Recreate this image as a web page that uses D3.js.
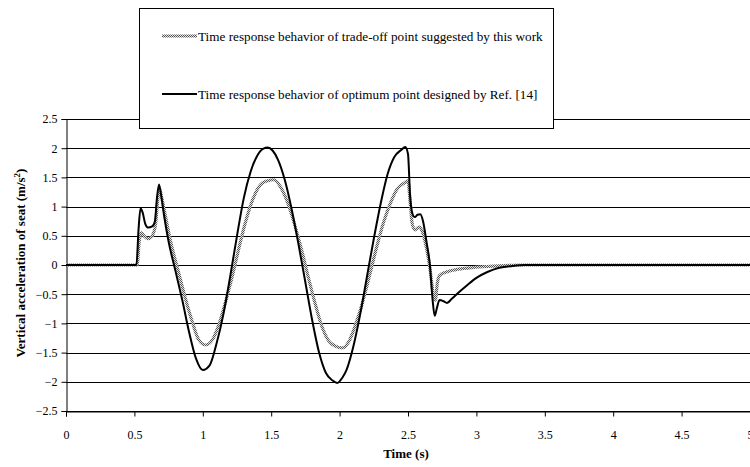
<!DOCTYPE html>
<html><head><meta charset="utf-8">
<script src="https://cdn.jsdelivr.net/npm/d3@7"></script>
<style>body{margin:0;background:#fff}svg{display:block}svg text{font-family:"Liberation Serif","Times New Roman",serif !important}</style>
</head><body><svg id="c" width="750" height="467"></svg>
<script>
const xTicks = [0,0.5,1,1.5,2,2.5,3,3.5,4,4.5,5];
const yTicks = [-2.5,-2,-1.5,-1,-0.5,0,0.5,1,1.5,2,2.5];
const legendLabels = ["Time response behavior of trade-off point suggested by this work",
                      "Time response behavior of optimum point designed by Ref. [14]"];
// optimum point (Ref. [14]) - solid black
const optT = [0,0.5,0.515,0.53,0.545,0.56,0.58,0.6,0.63,0.65,0.665,0.68,0.695,0.72,0.75,0.8,0.85,0.9,0.95,1.0,1.05,1.1,1.15,1.2,1.25,1.3,1.35,1.4,1.44,1.475,1.51,1.55,1.6,1.65,1.7,1.75,1.8,1.85,1.9,1.95,1.983,2.02,2.05,2.1,2.15,2.2,2.25,2.3,2.35,2.4,2.45,2.48,2.5,2.515,2.53,2.55,2.57,2.59,2.61,2.635,2.66,2.68,2.695,2.71,2.73,2.76,2.785,2.82,2.87,2.93,3.0,3.08,3.16,3.25,3.35,4,5];
const optV = [0,0,0,0.6,0.97,0.9,0.7,0.64,0.66,0.75,1.15,1.38,1.2,0.8,0.4,-0.1,-0.6,-1.15,-1.6,-1.8,-1.72,-1.35,-0.85,-0.2,0.5,1.15,1.6,1.88,1.99,2.01,1.96,1.8,1.45,0.95,0.35,-0.3,-0.95,-1.5,-1.85,-1.98,-2.02,-1.93,-1.8,-1.4,-0.85,-0.2,0.45,1.05,1.55,1.85,1.97,2.02,1.9,1.2,0.9,0.82,0.86,0.87,0.75,0.4,0.0,-0.6,-0.87,-0.75,-0.6,-0.62,-0.65,-0.58,-0.47,-0.35,-0.22,-0.12,-0.05,-0.02,0,0,0];
// trade-off point (this work) - stippled grey
const trdT = [0,0.5,0.52,0.535,0.55,0.57,0.6,0.63,0.655,0.67,0.685,0.7,0.73,0.77,0.82,0.87,0.92,0.97,1.02,1.07,1.12,1.17,1.22,1.27,1.32,1.37,1.42,1.47,1.52,1.57,1.62,1.67,1.72,1.77,1.82,1.87,1.92,1.97,2.02,2.07,2.12,2.17,2.22,2.27,2.32,2.37,2.42,2.47,2.5,2.515,2.53,2.55,2.58,2.6,2.63,2.66,2.685,2.7,2.715,2.73,2.78,2.85,2.95,3.05,3.2,3.35,4,5];
const trdV = [0,0,0,0.4,0.55,0.5,0.45,0.5,0.7,1.1,1.3,1.15,0.8,0.35,-0.1,-0.55,-0.95,-1.28,-1.37,-1.28,-1.0,-0.6,-0.15,0.35,0.8,1.15,1.37,1.44,1.46,1.33,1.07,0.7,0.28,-0.2,-0.65,-1.05,-1.3,-1.39,-1.42,-1.3,-1.0,-0.62,-0.17,0.3,0.72,1.05,1.3,1.40,1.44,1.1,0.72,0.6,0.65,0.6,0.35,-0.05,-0.5,-0.6,-0.3,-0.18,-0.12,-0.08,-0.05,-0.03,-0.01,0,0,0];

const svg = d3.select("#c");
const L = 66, T = 119, R = 750, B = 411;
const x = d3.scaleLinear().domain([0,5]).range([L,R]);
const y = d3.scaleLinear().domain([-2.5,2.5]).range([B,T]);

const defs = svg.append("defs");
const pat = defs.append("pattern").attr("id","stip").attr("width",2).attr("height",2).attr("patternUnits","userSpaceOnUse");
pat.append("rect").attr("width",2).attr("height",2).attr("fill","#e2e2e2");
pat.append("rect").attr("x",0).attr("y",0).attr("width",1).attr("height",1).attr("fill","#555");
pat.append("rect").attr("x",1).attr("y",1).attr("width",1).attr("height",1).attr("fill","#555");

// gridlines
svg.append("g").selectAll("line").data(yTicks).join("line")
  .attr("x1",L).attr("x2",R).attr("y1",d=>Math.round(y(d))+0.5).attr("y2",d=>Math.round(y(d))+0.5)
  .attr("stroke","#000").attr("stroke-width",1);

// axes
const yAxis = svg.append("g").attr("transform",`translate(${L+0.5},0)`)
  .call(d3.axisLeft(y).tickValues(yTicks).tickSize(5).tickFormat(d3.format("")));
const xAxis = svg.append("g").attr("transform",`translate(0,${Math.round(B)+0.5})`)
  .call(d3.axisBottom(x).tickValues(xTicks).tickSize(5).tickFormat(d3.format("")));
[yAxis,xAxis].forEach(a=>{
  a.attr("font-family","Liberation Serif");
  a.select(".domain").attr("stroke","#000");
  a.selectAll(".tick line").attr("stroke","#000");
  a.selectAll(".tick text").attr("fill","#000").style("font-size","12px");
});
xAxis.selectAll(".tick text").attr("dy","1.6em");
yAxis.selectAll(".tick text").attr("x",-9);

const line = d3.line().x(d=>x(d[0])).y(d=>y(d[1])).curve(d3.curveMonotoneX);
svg.append("path").datum(d3.zip(trdT,trdV)).attr("d",line)
  .attr("fill","none").attr("stroke","url(#stip)").attr("stroke-width",3.2);
svg.append("path").datum(d3.zip(optT,optV)).attr("d",line)
  .attr("fill","none").attr("stroke","#000").attr("stroke-width",2);

// axis titles
svg.append("text").attr("x",406).attr("y",458).attr("text-anchor","middle")
  .style("font-weight","bold").style("font-size","13px").text("Time (s)");
const yt = svg.append("text").attr("transform",`translate(25,${(T+B)/2-2}) rotate(-90)`)
  .attr("text-anchor","middle").style("font-weight","bold").style("font-size","13px");
yt.append("tspan").text("Vertical acceleration of seat (m/s");
yt.append("tspan").attr("dy",-5).style("font-size","9px").text("2");
yt.append("tspan").attr("dy",5).text(")");

// legend
const lg = svg.append("g");
lg.append("rect").attr("x",139.5).attr("y",8.5).attr("width",414).attr("height",120)
  .attr("fill","#fff").attr("stroke","#000").attr("stroke-width",1);
const ly = [36,94];
lg.append("line").attr("x1",162).attr("x2",197).attr("y1",ly[0]).attr("y2",ly[0])
  .attr("stroke","url(#stip)").attr("stroke-width",3);
lg.append("line").attr("x1",162).attr("x2",197).attr("y1",ly[1]).attr("y2",ly[1])
  .attr("stroke","#000").attr("stroke-width",2);
lg.selectAll("text.l").data(legendLabels).join("text").attr("class","l")
  .attr("x",198).attr("y",(d,i)=>ly[i]+4.5).style("font-size","13.2px").attr("fill","#000").text(d=>d);
</script></body></html>
